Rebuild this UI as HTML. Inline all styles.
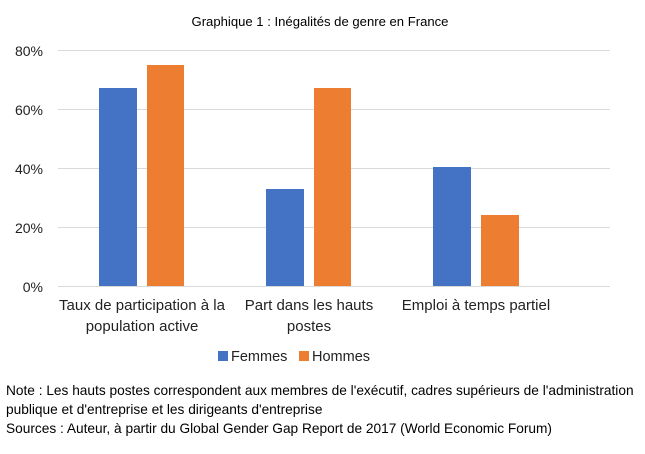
<!DOCTYPE html>
<html><head><meta charset="utf-8"><style>
body{margin:0;background:#fff;width:645px;height:449px;overflow:hidden;font-family:"Liberation Sans",sans-serif;}
</style></head><body>
<svg width="645" height="449" xmlns="http://www.w3.org/2000/svg" font-family="Liberation Sans, sans-serif">
<rect width="645" height="449" fill="#fff"/>
<text x="320" y="26" font-size="13.1" text-anchor="middle" fill="#000">Graphique 1 : Inégalités de genre en France</text>
<g stroke="#d9d9d9" stroke-width="1">
<line x1="58" y1="50.5" x2="610" y2="50.5"/>
<line x1="58" y1="109.5" x2="610" y2="109.5"/>
<line x1="58" y1="168.5" x2="610" y2="168.5"/>
<line x1="58" y1="227.5" x2="610" y2="227.5"/>
<line x1="58" y1="286.5" x2="610" y2="286.5"/>
</g>
<g font-size="14" fill="#222" text-anchor="end">
<text x="43" y="56">80%</text><text x="43" y="115">60%</text><text x="43" y="174">40%</text><text x="43" y="233">20%</text><text x="43" y="292">0%</text>
</g>
<g fill="#4472c4">
<rect x="99" y="88" width="38" height="198"/>
<rect x="266" y="189" width="38" height="97"/>
<rect x="433" y="167" width="38" height="119"/>
</g>
<g fill="#ed7d31">
<rect x="147" y="65" width="37" height="221"/>
<rect x="314" y="88" width="37" height="198"/>
<rect x="481" y="215" width="38" height="71"/>
</g>
<g font-size="15" fill="#222" text-anchor="middle">
<text x="142" y="310">Taux de participation à la</text>
<text x="142" y="331">population active</text>
<text x="309" y="310">Part dans les hauts</text>
<text x="309" y="331">postes</text>
<text x="476" y="310">Emploi à temps partiel</text>
</g>
<rect x="218" y="351" width="10" height="10" fill="#4472c4"/>
<text x="231" y="361" font-size="14.5" fill="#222">Femmes</text>
<rect x="299" y="351" width="10" height="10" fill="#ed7d31"/>
<text x="312" y="361" font-size="14.5" fill="#222">Hommes</text>
<g font-size="13.7" fill="#000">
<text x="6" y="395">Note : Les hauts postes correspondent aux membres de l'exécutif, cadres supérieurs de l'administration</text>
<text x="6" y="414">publique et d'entreprise et les dirigeants d'entreprise</text>
<text x="6" y="433">Sources : Auteur, à partir du Global Gender Gap Report de 2017 (World Economic Forum)</text>
</g>
</svg>
</body></html>
